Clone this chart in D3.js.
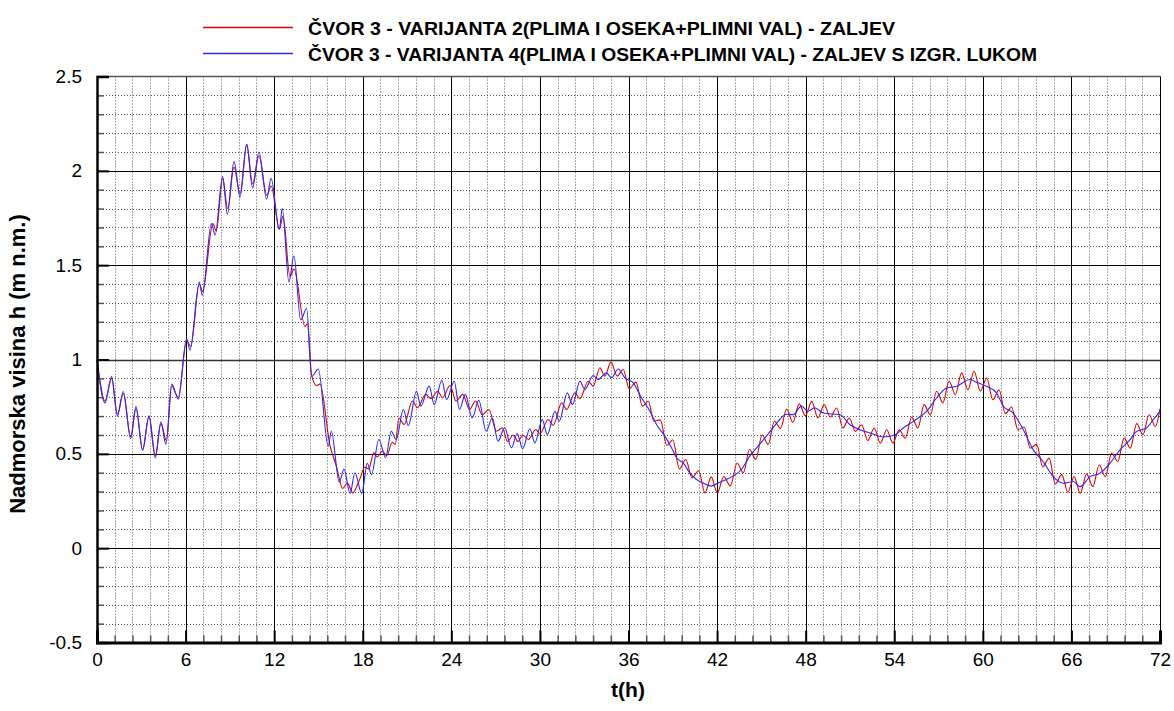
<!DOCTYPE html>
<html>
<head>
<meta charset="utf-8">
<script src="https://cdn.jsdelivr.net/npm/d3@7"></script>
<style>
  html, body { margin: 0; padding: 0; background: #fff; }
  svg { display: block; font-family: "Liberation Sans", Arial, sans-serif; }
</style>
</head>
<body>
<svg id="chart" width="1174" height="711"></svg>
<script>
// ---------- data ----------
const seriesNames = [
  "ČVOR 3 - VARIJANTA 2(PLIMA I OSEKA+PLIMNI VAL) - ZALJEV",
  "ČVOR 3 - VARIJANTA 4(PLIMA I OSEKA+PLIMNI VAL) - ZALJEV S IZGR. LUKOM"
];
const xTickLabels = [0, 6, 12, 18, 24, 30, 36, 42, 48, 54, 60, 66, 72];
const yTickLabels = [-0.5, 0, 0.5, 1, 1.5, 2, 2.5];
const xTitle = "t(h)";
const yTitle = "Nadmorska visina h (m n.m.)";

// Varijanta 2 (red): [t (h), h (m n.m.)]
const variant2 = [
[0,1.0],[0.54,0.78],[0.99,0.90],[1.38,0.71],[1.78,0.82],[2.28,0.59],[2.64,0.74],[3.09,0.52],[3.52,0.70],[3.95,0.49],
[4.33,0.66],[4.7,0.57],[5.06,0.86],[5.5,0.80],[6.07,1.10],[6.35,1.07],[6.93,1.40],[7.15,1.36],[7.85,1.72],[8.08,1.68],
[8.51,1.96],[8.85,1.80],[9.28,2.02],[9.69,1.88],[10.14,2.14],[10.54,1.93],[10.97,2.08],[11.5,1.87],[11.8,1.92],[12.35,1.69],
[12.6,1.76],[13.07,1.44],[13.34,1.48],[14.09,1.175],[14.25,1.19],[14.54,0.915],[14.88,0.862],[15.1,0.87],[15.78,0.545],[16.23,0.43],
[16.64,0.316],[16.96,0.345],[17.32,0.293],[17.77,0.36],[18.15,0.43],[18.4,0.42],[18.75,0.505],[18.98,0.483],[19.32,0.515],[19.62,0.49],
[20.0,0.56],[20.2,0.55],[20.45,0.69],[20.8,0.655],[21.36,0.78],[21.7,0.745],[22.27,0.815],[22.61,0.792],[23.07,0.832],[23.41,0.797],
[23.91,0.862],[24.32,0.78],[24.77,0.815],[25.23,0.735],[25.64,0.78],[26.09,0.708],[26.55,0.735],[27.05,0.62],[27.45,0.638],[27.8,0.565],
[28.2,0.60],[28.5,0.565],[28.85,0.60],[29.21,0.576],[29.73,0.629],[30.0,0.606],[30.56,0.682],[30.9,0.65],[31.47,0.77],[31.81,0.735],
[32.37,0.823],[32.71,0.792],[33.27,0.885],[33.61,0.859],[34.06,0.956],[34.4,0.912],[34.81,0.986],[35.24,0.912],[35.64,0.947],[36.05,0.845],
[36.5,0.88],[36.95,0.753],[37.34,0.779],[37.72,0.673],[38.15,0.68],[38.6,0.545],[39.0,0.575],[39.45,0.42],[39.88,0.47],[40.3,0.373],
[40.75,0.41],[41.18,0.293],[41.6,0.378],[42.02,0.293],[42.45,0.38],[42.9,0.33],[43.35,0.45],[43.78,0.40],[44.2,0.523],[44.62,0.47],
[45.05,0.6],[45.46,0.55],[45.88,0.673],[46.3,0.635],[46.71,0.738],[47.13,0.667],[47.56,0.765],[47.98,0.702],[48.41,0.778],[48.83,0.69],
[49.25,0.761],[49.67,0.695],[50.10,0.743],[50.52,0.637],[50.95,0.69],[51.37,0.619],[51.79,0.654],[52.21,0.571],[52.64,0.637],[53.06,0.557],
[53.49,0.628],[53.91,0.557],[54.33,0.628],[54.75,0.583],[55.18,0.695],[55.60,0.637],[56.02,0.761],[56.45,0.707],[56.87,0.832],[57.29,0.77],
[57.72,0.885],[58.14,0.814],[58.56,0.929],[58.99,0.84],[59.41,0.938],[59.83,0.832],[60.26,0.902],[60.68,0.787],[61.10,0.84],[61.52,0.713],
[61.95,0.748],[62.37,0.628],[62.80,0.642],[63.22,0.53],[63.64,0.55],[64.06,0.43],[64.49,0.477],[64.91,0.34],[65.34,0.39],[65.76,0.296],
[66.18,0.38],[66.60,0.291],[67.03,0.394],[67.45,0.326],[67.88,0.441],[68.30,0.379],[68.72,0.504],[69.14,0.459],[69.57,0.583],[69.99,0.53],
[70.42,0.66],[70.84,0.601],[71.26,0.707],[71.68,0.645],[72,0.74]
];

// Varijanta 4 (blue): [t (h), h (m n.m.)]
const variant4 = [
[0,1.0],[0.54,0.77],[0.99,0.91],[1.38,0.70],[1.78,0.83],[2.28,0.58],[2.64,0.75],[3.09,0.52],[3.52,0.70],[3.95,0.48],
[4.33,0.67],[4.67,0.55],[5.06,0.87],[5.51,0.79],[6.07,1.11],[6.3,1.05],[6.93,1.41],[7.13,1.34],[7.75,1.72],[8.0,1.66],
[8.51,1.97],[8.83,1.77],[9.28,2.05],[9.69,1.86],[10.14,2.14],[10.54,1.91],[10.97,2.10],[11.49,1.85],[11.79,1.96],[12.35,1.69],
[12.55,1.80],[13.0,1.41],[13.34,1.55],[13.79,1.21],[14.2,1.27],[14.54,0.91],[14.99,0.95],[15.66,0.54],[15.87,0.62],[16.41,0.35],
[16.73,0.42],[17.14,0.29],[17.47,0.40],[17.93,0.29],[18.31,0.45],[18.59,0.39],[19.09,0.576],[19.55,0.479],[19.93,0.62],[20.27,0.576],
[20.75,0.735],[21.09,0.65],[21.64,0.832],[21.93,0.753],[22.5,0.859],[22.84,0.761],[23.36,0.89],[23.68,0.788],[24.2,0.885],[24.55,0.735],
[24.95,0.815],[25.41,0.69],[25.86,0.784],[26.36,0.62],[26.77,0.69],[27.16,0.567],[27.61,0.638],[28.07,0.532],[28.46,0.608],[28.83,0.527],
[29.32,0.633],[29.66,0.558],[30.16,0.682],[30.5,0.602],[31.02,0.726],[31.31,0.673],[31.85,0.823],[32.21,0.761],[32.71,0.885],[33.05,0.841],
[33.61,0.915],[33.95,0.894],[34.51,0.929],[34.85,0.903],[35.3,0.95],[35.76,0.903],[36.32,0.876],[36.88,0.797],[37.45,0.726],[37.9,0.655],
[38.46,0.594],[38.91,0.532],[39.25,0.479],[39.7,0.452],[40.15,0.399],[40.6,0.364],[41.05,0.346],[41.62,0.329],[42.07,0.346],[42.63,0.364],
[43.08,0.382],[43.65,0.417],[44.21,0.488],[44.78,0.541],[45.34,0.594],[45.79,0.638],[46.24,0.682],[46.7,0.71],[47.15,0.708],[47.71,0.753],
[48.16,0.726],[48.61,0.744],[49.2,0.716],[50.33,0.707],[51.0,0.654],[51.68,0.628],[52.36,0.61],[53.26,0.589],[54.05,0.601],[54.61,0.637],
[55.29,0.672],[56.19,0.725],[56.87,0.796],[57.55,0.849],[58.23,0.858],[59.13,0.894],[59.58,0.879],[60.26,0.858],[60.93,0.823],[61.39,0.752],
[62.06,0.716],[62.74,0.628],[63.42,0.521],[64.09,0.459],[64.77,0.379],[65.45,0.344],[66.13,0.353],[66.58,0.326],[67.26,0.379],[67.93,0.397],
[68.61,0.45],[69.29,0.521],[69.96,0.574],[70.41,0.619],[71.09,0.637],[71.54,0.681],[72,0.725]
];

// ---------- layout ----------
const svg = d3.select("#chart");
const L = 97, R = 1160, T = 76.5, B = 642.5;
const x = d3.scaleLinear().domain([0, 72]).range([L, R]);
const y = d3.scaleLinear().domain([-0.5, 2.5]).range([B, T]);

const round = v => Math.round(v * 1000) / 1000;
const xMinor = d3.range(0, 72.001, 1.2).map(round).filter(v => Math.abs(v / 6 - Math.round(v / 6)) > 1e-6);
const yMinor = d3.range(-0.5, 2.5001, 0.1).map(round).filter(v => Math.abs(v / 0.5 - Math.round(v / 0.5)) > 1e-6);

const grid = svg.append("g");
// minor dotted grid
grid.selectAll(".vmin").data(xMinor).join("line")
  .attr("x1", d => Math.round(x(d)) + 0.5).attr("x2", d => Math.round(x(d)) + 0.5)
  .attr("y1", T).attr("y2", B)
  .attr("stroke", "#555").attr("stroke-width", 1).attr("stroke-dasharray", "1,2");
grid.selectAll(".hmin").data(yMinor).join("line")
  .attr("x1", L).attr("x2", R)
  .attr("y1", d => Math.round(y(d)) + 0.5).attr("y2", d => Math.round(y(d)) + 0.5)
  .attr("stroke", "#555").attr("stroke-width", 1).attr("stroke-dasharray", "1,2");
// major solid grid
grid.selectAll(".vmaj").data(xTickLabels.filter(d => d > 0 && d < 72)).join("line")
  .attr("x1", d => Math.round(x(d)) + 0.5).attr("x2", d => Math.round(x(d)) + 0.5)
  .attr("y1", T).attr("y2", B)
  .attr("stroke", "#000").attr("stroke-width", 1);
grid.selectAll(".hmaj").data(yTickLabels.filter(d => d > -0.5 && d < 2.5)).join("line")
  .attr("x1", L).attr("x2", R)
  .attr("y1", d => Math.round(y(d)) + 0.5).attr("y2", d => Math.round(y(d)) + 0.5)
  .attr("stroke", d => d === 1 ? "#333" : "#000").attr("stroke-width", d => d === 1 ? 1.4 : 1);
// top & right frame
svg.append("line").attr("x1", L).attr("x2", R + 0.5).attr("y1", T).attr("y2", T)
  .attr("stroke", "#555").attr("stroke-width", 1.5);
svg.append("line").attr("x1", R + 0.5).attr("x2", R + 0.5).attr("y1", T).attr("y2", B)
  .attr("stroke", "#000").attr("stroke-width", 1);

// ---------- series ----------
const line = d3.line().x(d => x(d[0])).y(d => y(d[1])).curve(d3.curveMonotoneX);
svg.append("path").datum(variant2).attr("d", line)
  .attr("fill", "none").attr("stroke", "#e00000").attr("stroke-width", 1.1);
svg.append("path").datum(variant4).attr("d", line)
  .attr("fill", "none").attr("stroke", "#2828ff").attr("stroke-width", 1.1);

// ---------- axes ----------
const tickFont = 19;
function styleAxis(g) {
  g.selectAll("text").attr("font-size", tickFont).attr("font-family", "Liberation Sans, Arial, sans-serif").attr("fill", "#000");
}
// minor ticks
svg.append("g").attr("transform", `translate(${L},0)`)
  .call(d3.axisLeft(y).tickValues(yMinor).tickSize(-7).tickFormat(""))
  .call(g => g.select(".domain").remove())
  .call(g => g.selectAll("line").attr("stroke", "#555").attr("stroke-width", 1.5));
svg.append("g").attr("transform", `translate(0,${B})`)
  .call(d3.axisBottom(x).tickValues(xMinor).tickSize(-7).tickFormat(""))
  .call(g => g.select(".domain").remove())
  .call(g => g.selectAll("line").attr("stroke", "#555").attr("stroke-width", 1.5));
// major ticks + labels
svg.append("g").attr("transform", `translate(${L},0)`)
  .call(d3.axisLeft(y).tickValues(yTickLabels).tickSize(-12).tickPadding(15).tickFormat(d => String(d)))
  .call(g => g.select(".domain").attr("stroke", "#000").attr("stroke-width", 2.5))
  .call(g => g.selectAll("line").attr("stroke", "#000").attr("stroke-width", 2))
  .call(styleAxis);
svg.append("g").attr("transform", `translate(0,${B})`)
  .call(d3.axisBottom(x).tickValues(xTickLabels).tickSize(-12).tickPadding(10).tickFormat(d => String(d)))
  .call(g => g.select(".domain").attr("stroke", "#000").attr("stroke-width", 3))
  .call(g => g.selectAll("line").attr("stroke", "#000").attr("stroke-width", 2))
  .call(styleAxis);

// ---------- titles ----------
svg.append("text").attr("x", 628).attr("y", 697).attr("text-anchor", "middle")
  .attr("font-size", 21).attr("font-weight", "bold").text(xTitle);
svg.append("text").attr("transform", "translate(25,364) rotate(-90)").attr("text-anchor", "middle")
  .attr("font-size", 22).attr("font-weight", "bold").text(yTitle);

// ---------- legend ----------
const legColors = ["#e00000", "#2828ff"];
const legY = [27.5, 53.5];
const legW = [587, 729];
const leg = svg.append("g");
seriesNames.forEach((name, i) => {
  leg.append("line").attr("x1", 203).attr("x2", 293).attr("y1", legY[i]).attr("y2", legY[i])
    .attr("stroke", legColors[i]).attr("stroke-width", 1.5);
  leg.append("text").attr("x", 308).attr("y", legY[i] + 7.5)
    .attr("font-size", 19).attr("font-weight", "bold")
    .attr("textLength", legW[i]).attr("lengthAdjust", "spacingAndGlyphs")
    .text(name);
});
</script>
</body>
</html>
